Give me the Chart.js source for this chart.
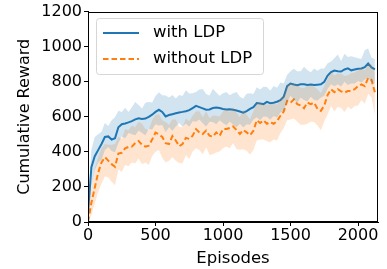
<!DOCTYPE html>
<html>
<head>
<meta charset="utf-8">
<script src="https://cdn.jsdelivr.net/npm/chart.js@4/dist/chart.umd.min.js"></script>
<style>
html,body{margin:0;padding:0;background:#fff;}
#c{display:block;}
</style>
</head>
<body>
<canvas id="c" width="387" height="269"></canvas>
<script>
const episodes = [0,25,50,75,100,125,150,175,200,225,250,275,300,325,350,375,400,425,450,475,500,525,550,575,600,625,650,675,700,725,750,775,800,825,850,875,900,925,950,975,1000,1025,1050,1075,1100,1125,1150,1175,1200,1225,1250,1275,1300,1325,1350,1375,1400,1425,1450,1475,1500,1525,1550,1575,1600,1625,1650,1675,1700,1725,1750,1775,1800,1825,1850,1875,1900,1925,1950,1975,2000,2025,2050,2075,2100,2125];

const withLDP = [50,313,375,410,445,485,488,470,478,540,558,562,568,575,585,592,588,590,600,612,628,640,628,602,610,615,620,625,628,632,638,650,662,655,648,640,642,650,653,650,645,642,643,640,636,630,624,632,645,655,678,676,672,685,678,680,686,695,715,775,790,784,780,785,786,782,784,781,783,785,800,835,855,864,860,858,870,876,865,870,874,876,883,904,882,870];
const withLDPUpper = [80,413,485,500,515,565,548,580,598,635,628,652,628,655,685,667,648,680,685,682,718,740,723,722,710,725,705,725,718,752,733,735,742,755,758,730,722,760,738,720,735,742,723,735,741,715,704,732,735,730,768,756,772,770,748,775,766,795,790,840,860,874,860,860,886,867,854,876,863,875,875,905,915,934,955,918,960,941,945,940,934,931,980,990,937,930];
const withLDPLower = [5,203,295,340,355,410,428,405,398,450,488,477,508,500,495,522,508,495,530,527,558,550,553,512,540,520,545,565,543,562,543,575,572,585,563,545,572,570,558,580,565,552,573,555,541,560,539,557,555,585,598,581,602,600,583,605,596,625,635,685,720,699,680,710,696,687,714,696,693,710,720,760,785,774,785,773,800,781,790,790,804,796,813,824,797,790];

const withoutLDP = [0,110,195,280,340,370,350,330,315,390,395,420,428,430,450,462,440,430,435,470,510,500,485,450,445,490,465,432,445,480,474,492,530,511,502,521,492,487,511,492,530,530,536,545,525,502,525,511,495,520,580,565,580,560,570,560,575,606,630,690,680,700,672,665,649,681,672,681,645,634,665,725,757,740,757,745,738,747,748,757,775,785,775,822,810,740];
const withoutLDPUpper = [20,200,305,370,420,445,440,440,445,485,475,530,523,550,540,572,560,530,525,580,610,615,580,570,555,585,585,542,540,590,574,607,630,631,597,631,592,607,606,602,630,645,626,655,625,597,640,611,585,630,680,680,670,670,670,675,670,706,720,785,790,790,782,765,764,776,782,771,755,734,775,815,857,835,847,845,833,837,848,852,865,880,865,902,900,850];
const withoutLDPLower = [0,40,105,170,220,260,255,230,210,300,285,325,318,340,335,362,330,340,325,375,400,410,365,340,350,370,350,337,335,380,359,402,420,411,387,426,382,387,396,402,420,430,421,450,415,412,415,406,385,410,465,470,470,460,455,470,465,506,535,580,585,590,572,555,554,561,572,571,550,524,575,615,662,630,657,650,628,657,643,662,665,695,675,732,710,610];

const seriesLabels = ['with LDP', 'without LDP'];
const xTicks = [0, 500, 1000, 1500, 2000];
const yTicks = [0, 200, 400, 600, 800, 1000, 1200];

const BLUE = '#1f77b4';
const ORANGE = '#ff7f0e';
const pts = arr => episodes.map((e, i) => ({x: e, y: arr[i]}));
const FONT = "'DejaVu Sans', sans-serif";

const framePlugin = {
  id: 'frame',
  afterDatasetsDraw(chart) {
    const a = chart.chartArea, ctx = chart.ctx;
    ctx.save();
    ctx.strokeStyle = '#000';
    ctx.lineWidth = 1;
    ctx.strokeRect(Math.round(a.left) + 0.5, Math.round(a.top) + 0.5,
                   Math.round(a.right - a.left) - 1, Math.round(a.bottom - a.top) - 1);
    ctx.restore();
  }
};

const legendPlugin = {
  id: 'boxLegend',
  afterDraw(chart) {
    const ctx = chart.ctx;
    const x0 = 96.5, y0 = 18.5, w = 167, h = 56, r = 3;
    ctx.save();
    ctx.beginPath();
    ctx.moveTo(x0 + r, y0);
    ctx.arcTo(x0 + w, y0, x0 + w, y0 + h, r);
    ctx.arcTo(x0 + w, y0 + h, x0, y0 + h, r);
    ctx.arcTo(x0, y0 + h, x0, y0, r);
    ctx.arcTo(x0, y0, x0 + w, y0, r);
    ctx.closePath();
    ctx.fillStyle = 'rgba(255,255,255,0.8)';
    ctx.fill();
    ctx.strokeStyle = '#d6d6d6';
    ctx.lineWidth = 1;
    ctx.stroke();
    const items = chart.data.datasets.filter(d => seriesLabels.includes(d.label));
    items.forEach((d, i) => {
      const yy = 33 + i * 26;
      ctx.beginPath();
      ctx.setLineDash(d.borderDash || []);
      ctx.strokeStyle = d.borderColor;
      ctx.lineWidth = d.borderWidth;
      ctx.moveTo(103, yy);
      ctx.lineTo(139, yy);
      ctx.stroke();
      ctx.setLineDash([]);
      ctx.fillStyle = '#000';
      ctx.font = "16.5px " + FONT;
      ctx.textBaseline = 'middle';
      ctx.textAlign = 'left';
      ctx.fillText(d.label, 153, yy);
    });
    ctx.restore();
  }
};

new Chart(document.getElementById('c'), {
  type: 'line',
  data: {
    datasets: [
      {label: 'bandA_hi', data: pts(withLDPUpper), fill: '+1', backgroundColor: 'rgba(31,119,180,0.2)', borderWidth: 0, pointRadius: 0},
      {label: 'bandA_lo', data: pts(withLDPLower), fill: false, borderWidth: 0, pointRadius: 0},
      {label: 'bandB_hi', data: pts(withoutLDPUpper), fill: '+1', backgroundColor: 'rgba(255,127,14,0.2)', borderWidth: 0, pointRadius: 0},
      {label: 'bandB_lo', data: pts(withoutLDPLower), fill: false, borderWidth: 0, pointRadius: 0},
      {label: seriesLabels[0], data: pts(withLDP), borderColor: BLUE, borderWidth: 2, fill: false, pointRadius: 0},
      {label: seriesLabels[1], data: pts(withoutLDP), borderColor: ORANGE, borderWidth: 2, borderDash: [5.5, 3], fill: false, pointRadius: 0}
    ]
  },
  options: {
    responsive: false,
    animation: false,
    devicePixelRatio: 1,
    layout: {padding: {top: 10, right: 9, left: 0, bottom: 0}},
    plugins: {legend: {display: false}, tooltip: {enabled: false}},
    elements: {line: {tension: 0}},
    scales: {
      x: {
        type: 'linear', min: 0, max: 2148,
        afterBuildTicks: s => { s.ticks = xTicks.map(v => ({value: v})); },
        afterFit: s => { s.height = 47; },
        grid: {display: true, drawOnChartArea: false, tickLength: 4, tickColor: '#000', color: '#000'},
        border: {display: true, color: '#000'},
        ticks: {font: {family: FONT, size: 16}, color: '#000', padding: 0, maxRotation: 0, autoSkip: false, callback: v => String(v)},
        title: {display: true, text: 'Episodes', font: {family: FONT, size: 16.5}, color: '#000', padding: {top: 0, bottom: 0}}
      },
      y: {
        min: 0, max: 1200,
        afterBuildTicks: s => { s.ticks = yTicks.map(v => ({value: v})); },
        afterFit: s => { s.width = 88; },
        grid: {display: true, drawOnChartArea: false, tickLength: 4, tickColor: '#000', color: '#000'},
        border: {display: true, color: '#000'},
        ticks: {font: {family: FONT, size: 16}, color: '#000', padding: 2, autoSkip: false, callback: v => String(v)},
        title: {display: true, text: 'Cumulative Reward', font: {family: FONT, size: 16}, color: '#000', padding: {top: 15, bottom: 0}}
      }
    }
  },
  plugins: [framePlugin, legendPlugin]
});
</script>
</body>
</html>
